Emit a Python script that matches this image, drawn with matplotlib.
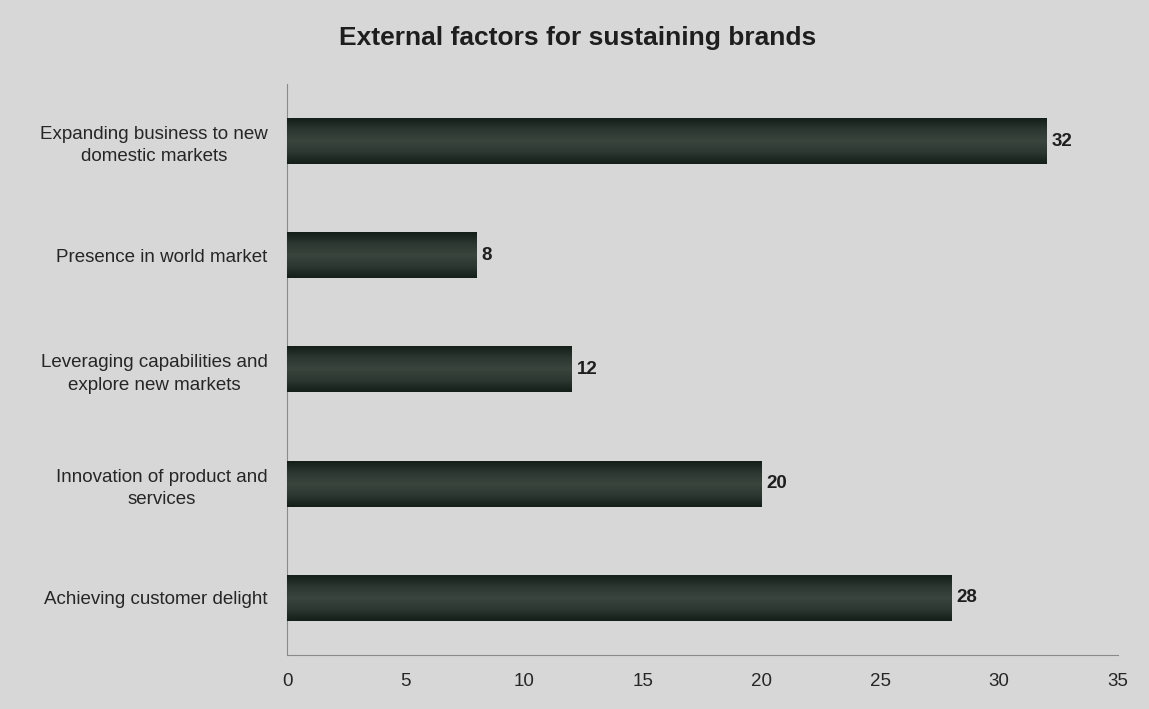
# External factors for sustaining brands - horizontal bar chart

import numpy as np
import matplotlib.pyplot as plt
from matplotlib.colors import LinearSegmentedColormap

# Data
factors = [
    "Achieving customer delight",
    "Innovation of product and\nservices",
    "Leveraging capabilities and\nexplore new markets",
    "Presence in world market",
    "Expanding business to new\ndomestic markets",
]
counts = [28, 20, 12, 8, 32]
x_ticks = [0, 5, 10, 15, 20, 25, 30, 35]

plt.rcParams['font.family'] = ['Liberation Sans', 'DejaVu Sans']

bg = "#d6d7d6"
fig = plt.figure(figsize=(11.49, 7.09), dpi=100, facecolor=bg)
ax = fig.add_axes([0.2498, 0.0762, 0.7232, 0.8053], facecolor=bg)

bar_h = 0.4
y_pos = np.arange(len(factors))

# Shaded bars: dark at the edges, lighter toward the middle
shade = LinearSegmentedColormap.from_list("bar_shade", ["#151f19", "#2b3730", "#3a453e", "#2b3730", "#151f19"])
grad = np.linspace(0, 1, 64).reshape(-1, 1)

bars = ax.barh(y_pos, counts, height=bar_h, color="#232e28", edgecolor="none", zorder=2)
for bar in bars:
    x0, y0 = bar.get_x(), bar.get_y()
    w, h = bar.get_width(), bar.get_height()
    ax.imshow(grad, cmap=shade, aspect="auto", extent=(x0, x0 + w, y0, y0 + h),
              zorder=3, interpolation="bicubic")

for y, v in zip(y_pos, counts):
    ax.text(v + 0.2, y, str(v), va="center", ha="left", fontsize=13.5,
            fontweight="bold", color="#1e1e1e", zorder=4)

ax.set_xlim(0, 35)
ax.set_ylim(-0.5, len(factors) - 0.5)
ax.set_xticks(x_ticks)
ax.set_yticks(y_pos)
ax.set_yticklabels(factors, fontsize=13.5, color="#262626", multialignment="center",
                   linespacing=1.4)
ax.tick_params(axis="x", labelsize=13.5, labelcolor="#262626", length=0, pad=13)
ax.tick_params(axis="y", length=0, pad=14)

for side in ["top", "right"]:
    ax.spines[side].set_visible(False)
for side in ["left", "bottom"]:
    ax.spines[side].set_color("#8a8a8a")
    ax.spines[side].set_linewidth(0.8)

fig.text(0.503, 0.946, "External factors for sustaining brands", ha="center", va="center",
         fontsize=19, fontweight="bold", color="#1e1e1e")

fig.savefig("out.png", dpi=100, facecolor=bg)
